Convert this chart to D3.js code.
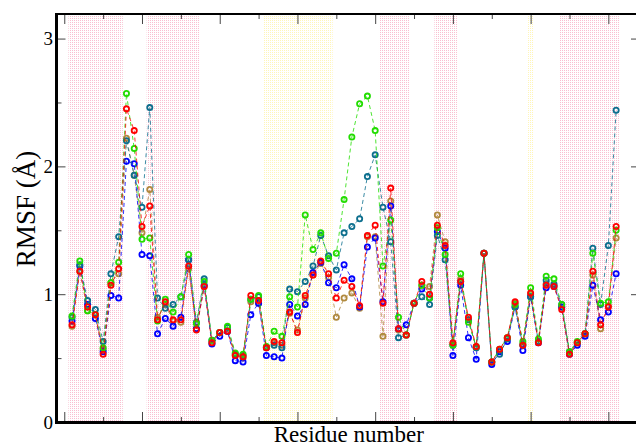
<!DOCTYPE html>
<html><head><meta charset="utf-8">
<script src="https://cdn.jsdelivr.net/npm/d3@7"></script>
<style>html,body{margin:0;padding:0;background:#fff;}svg{display:block;}</style>
</head><body>
<svg id="chart" width="636" height="446"></svg>
<script>
// ---------- data ----------
const residues = d3.range(1, 72);
const blue  = [0.79,1.22,0.92,0.81,0.55,0.99,0.97,2.04,2.02,1.31,1.30,0.69,0.81,0.75,0.82,1.27,0.73,1.07,0.61,0.67,0.71,0.48,0.47,0.84,0.93,0.52,0.51,0.50,0.92,0.83,0.92,1.17,1.25,1.09,1.05,1.23,1.12,0.90,1.37,1.44,0.94,1.69,0.73,0.76,0.93,1.04,0.97,1.49,1.36,0.52,1.07,0.66,0.49,1.32,0.45,0.55,0.63,0.90,0.56,0.98,0.62,1.05,1.06,0.90,0.53,0.60,0.67,1.07,0.80,0.86,1.16];
const teal  = [0.82,1.23,0.95,0.88,0.63,1.16,1.45,2.20,1.93,1.68,2.46,0.97,0.89,0.92,0.98,1.27,0.78,1.12,0.64,0.70,0.74,0.53,0.52,0.96,0.98,0.58,0.60,0.58,1.04,1.02,1.10,1.22,1.46,1.30,1.19,1.48,1.53,1.59,1.92,2.09,1.68,1.41,0.66,0.68,0.93,0.98,0.92,1.46,1.27,0.60,1.10,0.80,0.58,1.32,0.47,0.53,0.65,0.90,0.60,0.98,0.63,1.11,1.08,0.92,0.55,0.62,0.69,1.36,0.92,1.38,2.44];
const green = [0.83,1.26,0.87,0.84,0.58,1.09,1.25,2.57,2.14,1.43,1.44,0.79,0.96,0.86,0.98,1.31,0.77,1.10,0.64,0.70,0.75,0.54,0.53,0.96,0.99,0.59,0.71,0.67,0.98,0.90,1.62,1.35,1.48,1.28,1.32,1.74,2.23,2.49,2.55,2.28,1.22,1.58,0.82,0.68,0.93,1.07,0.97,1.52,1.31,0.60,1.16,0.78,0.59,1.32,0.47,0.57,0.66,0.92,0.63,1.05,0.65,1.14,1.12,0.92,0.55,0.63,0.69,1.32,0.93,0.94,1.50];
const red   = [0.76,1.18,0.90,0.84,0.53,1.07,1.20,2.45,2.28,1.53,1.69,0.80,0.94,0.80,0.80,1.22,0.72,1.06,0.62,0.70,0.71,0.52,0.51,0.99,0.95,0.58,0.63,0.62,0.86,0.70,0.99,1.15,1.26,1.16,0.97,1.11,1.06,0.91,1.46,1.54,0.93,1.83,0.73,0.68,0.93,1.10,1.00,1.54,1.38,0.62,1.10,0.82,0.59,1.32,0.47,0.57,0.66,0.94,0.60,1.01,0.62,1.07,1.06,0.88,0.53,0.62,0.69,1.18,0.76,0.90,1.53];
const brown = [0.75,1.18,0.87,0.84,0.57,1.09,1.16,2.22,1.93,1.48,1.82,0.82,0.92,0.79,0.78,1.20,0.73,1.06,0.62,0.70,0.71,0.52,0.50,0.94,0.93,0.58,0.62,0.60,0.85,0.72,0.97,1.15,1.24,1.13,0.82,0.97,1.01,0.89,1.45,1.45,0.67,1.73,0.72,0.68,0.93,1.07,1.06,1.62,1.41,0.61,1.12,0.80,0.58,1.32,0.47,0.56,0.66,0.93,0.61,1.00,0.63,1.08,1.07,0.90,0.54,0.62,0.69,1.15,0.73,0.91,1.44];

const seriesNames  = ["brown", "blue", "teal", "green", "red"];
const seriesValues = [brown, blue, teal, green, red];
const seriesColors = ["#b08a3e", "#0000ff", "#0d6f8e", "#22dd00", "#ff0000"];

// shaded residue ranges
const pinkRanges   = [[0.53, 7.53], [10.6, 17.46], [40.49, 44.42], [47.62, 50.52], [63.72, 71.45]];
const yellowRanges = [[25.57, 34.53], [59.57, 60.43]];

const xMajorTicks = [0, 10, 20, 30, 40, 50, 60, 70];
const xMinorTicks = [5, 15, 25, 35, 45, 55, 65];
const yMajorTicks = [0, 1, 2, 3];
const yMinorTicks = [0.5, 1.5, 2.5];

// ---------- scales ----------
const svg = d3.select("#chart");
const L = 56.5, R = 641, T = 13, B = 422;
const x = d3.scaleLinear().domain([-1, 74.2]).range([L, R]);
const y = d3.scaleLinear().domain([0, 3.2]).range([B, T]);

// dotted patterns
const defs = svg.append("defs");
function pattern(id, color) {
  const p = defs.append("pattern").attr("id", id).attr("patternUnits", "userSpaceOnUse")
    .attr("width", 2).attr("height", 2);
  p.append("rect").attr("width", 2).attr("height", 2).attr("fill", "#fff");
  p.append("rect").attr("x", 0).attr("y", 0).attr("width", 1).attr("height", 1).attr("fill", color);
}
pattern("pinkPat", "#f9bfd0");
pattern("yellowPat", "#fff5b8");

svg.append("g").selectAll("rect").data(pinkRanges).join("rect")
  .attr("x", d => x(d[0])).attr("width", d => x(d[1]) - x(d[0]))
  .attr("y", T).attr("height", B - T).attr("fill", "url(#pinkPat)");
svg.append("g").selectAll("rect").data(yellowRanges).join("rect")
  .attr("x", d => x(d[0])).attr("width", d => x(d[1]) - x(d[0]))
  .attr("y", T).attr("height", B - T).attr("fill", "url(#yellowPat)");

// ticks (inward on all sides)
function tickAxis(axis, transform, size, values, fmt) {
  const g = svg.append("g").attr("transform", transform)
    .call(axis.tickValues(values).tickSize(size).tickPadding(3.5).tickFormat(fmt));
  g.select(".domain").remove();
  g.selectAll(".tick line").attr("stroke", "#444");
  return g;
}
tickAxis(d3.axisBottom(x), `translate(0,${B})`, -10, xMajorTicks, () => "");
tickAxis(d3.axisBottom(x), `translate(0,${B})`, -5, xMinorTicks, () => "");
tickAxis(d3.axisTop(x), `translate(0,${T + 1})`, -10, xMajorTicks, () => "");
tickAxis(d3.axisTop(x), `translate(0,${T + 1})`, -5, xMinorTicks, () => "");
const yl = tickAxis(d3.axisLeft(y), `translate(${L},0)`, -9, yMajorTicks, d3.format("d"));
yl.selectAll("text").attr("font-family", "Liberation Serif, Times New Roman, serif")
  .attr("font-size", 19).attr("fill", "#000");
tickAxis(d3.axisLeft(y), `translate(${L},0)`, -5, yMinorTicks, () => "");
tickAxis(d3.axisRight(y), `translate(${R},0)`, -10, yMajorTicks, () => "");
tickAxis(d3.axisRight(y), `translate(${R},0)`, -5, yMinorTicks, () => "");

// series
const line = d3.line().x((d, i) => x(residues[i])).y(d => y(d));
seriesValues.forEach((vals, k) => {
  const g = svg.append("g").attr("class", "series-" + seriesNames[k]);
  g.append("path").datum(vals).attr("d", line).attr("fill", "none")
    .attr("stroke", seriesColors[k]).attr("stroke-width", 1).attr("stroke-dasharray", "4,3")
    .attr("opacity", 0.8);
  g.selectAll("circle").data(vals).join("circle")
    .attr("cx", (d, i) => x(residues[i])).attr("cy", d => y(d)).attr("r", 2.6)
    .attr("fill", "none").attr("stroke", seriesColors[k]).attr("stroke-width", 1.8);
});

// frame
svg.append("line").attr("x1", L).attr("x2", R).attr("y1", T + 1).attr("y2", T + 1).attr("stroke", "#000").attr("stroke-width", 2);
svg.append("line").attr("x1", L - 1.5).attr("x2", R).attr("y1", B + 0.5).attr("y2", B + 0.5).attr("stroke", "#000").attr("stroke-width", 3);
svg.append("line").attr("x1", L).attr("x2", L).attr("y1", T).attr("y2", B + 2).attr("stroke", "#000").attr("stroke-width", 3);
svg.append("line").attr("x1", R).attr("x2", R).attr("y1", T).attr("y2", B + 2).attr("stroke", "#000").attr("stroke-width", 3);

// labels
svg.append("text").attr("x", (L + R) / 2).attr("y", 442).attr("text-anchor", "middle")
  .attr("font-family", "Liberation Serif, Times New Roman, serif").attr("font-size", 23)
  .text("Residue number");
svg.append("text").attr("transform", "translate(35,209) rotate(-90)").attr("text-anchor", "middle")
  .attr("font-family", "Liberation Serif, Times New Roman, serif").attr("font-size", 27)
  .text("RMSF (Å)");
</script>
</body></html>
